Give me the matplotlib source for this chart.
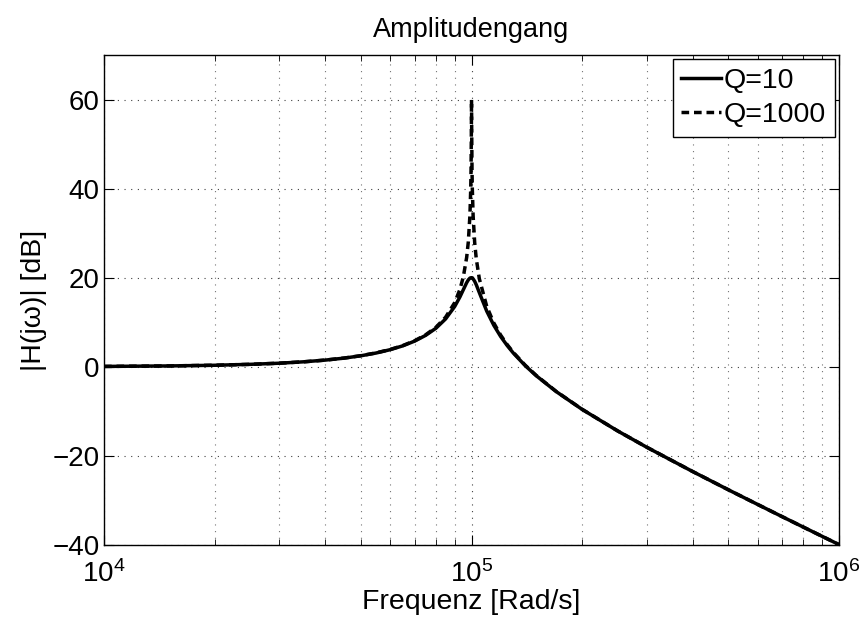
import matplotlib
matplotlib.use("Agg")
import matplotlib.pyplot as plt
from matplotlib.ticker import LogLocator, NullFormatter

plt.rcParams['font.family'] = ['Liberation Sans', 'DejaVu Sans']
plt.rcParams['mathtext.fontset'] = 'custom'
plt.rcParams['mathtext.rm'] = 'Liberation Sans'

# frequency in rad/s
freq = [1.0e4, 1.5e4, 2.0e4, 2.5e4, 3.0e4, 3.5e4, 4.0e4, 4.5e4, 5.0e4, 5.5e4,
        6.0e4, 6.5e4, 7.0e4, 7.5e4, 8.0e4, 8.5e4, 9.0e4, 9.3e4, 9.5e4, 9.7e4,
        9.8e4, 9.9e4, 9.95e4, 9.97e4, 9.99e4, 1.0e5, 1.001e5, 1.003e5, 1.005e5,
        1.01e5, 1.02e5, 1.03e5, 1.05e5, 1.1e5, 1.15e5, 1.2e5, 1.25e5, 1.3e5,
        1.4e5, 1.5e5, 1.7e5, 2.0e5, 2.5e5, 3.0e5, 4.0e5, 5.0e5, 6.0e5, 7.0e5,
        8.0e5, 1.0e6]

# |H(jw)| in dB, Q = 10
mag_q10 = [0.09, 0.20, 0.35, 0.56, 0.81, 1.13, 1.51, 1.95, 2.48, 3.10,
           3.84, 4.71, 5.77, 7.06, 8.66, 10.75, 13.55, 15.70, 17.32, 18.89,
           19.52, 19.92, 19.98, 19.99, 20.0, 20.0, 20.0, 19.99, 19.98,
           19.74, 19.19, 18.44, 16.67, 12.50, 9.31, 6.82, 4.79, 3.07,
           0.26, -2.00, -5.56, -9.56, -14.41, -18.07, -23.52, -27.61, -30.88, -33.63,
           -35.99, -39.91]

# |H(jw)| in dB, Q = 1000
mag_q1000 = [0.09, 0.20, 0.36, 0.56, 0.82, 1.13, 1.51, 1.97, 2.50, 3.13,
             3.88, 4.77, 5.85, 7.18, 8.87, 11.13, 14.42, 17.39, 20.22, 24.57,
             28.05, 34.0, 39.98, 44.33, 53.0, 60.0, 53.0, 44.30, 39.98,
             33.94, 27.87, 24.31, 19.79, 13.56, 9.83, 7.13, 5.00, 3.22,
             0.36, -1.94, -5.53, -9.54, -14.40, -18.06, -23.52, -27.60, -30.88, -33.63,
             -35.99, -39.91]

fig = plt.figure(figsize=(8.64, 6.23), dpi=100)
ax = fig.add_axes([0.1204, 0.1252, 0.8507, 0.7865])

ax.semilogx(freq, mag_q10, 'k-', linewidth=2.5, label='Q=10')
ax.semilogx(freq, mag_q1000, 'k--', linewidth=2.5, label='Q=1000', dashes=(2.2, 1.4))

ax.set_xlim(1e4, 1e6)
ax.set_ylim(-40, 70)
ax.set_yticks([-40, -20, 0, 20, 40, 60])
ax.xaxis.set_major_locator(LogLocator(base=10, numticks=10))
ax.xaxis.set_minor_locator(LogLocator(base=10, subs=range(2, 10), numticks=20))
ax.xaxis.set_minor_formatter(NullFormatter())

ax.grid(True, which='major', linestyle=(0, (1, 5)), color='0.25', linewidth=0.8)
ax.grid(True, which='minor', axis='x', linestyle=(0, (1, 5)), color='0.45', linewidth=0.8)

ax.tick_params(which='both', direction='in', top=True, right=True, labelsize=20)
ax.tick_params(which='major', length=7)
ax.tick_params(which='minor', length=4)
ax.tick_params(axis='x', which='major', pad=11)
ax.tick_params(axis='y', which='major', pad=3)
for s in ax.spines.values():
    s.set_linewidth(1.0)

ax.set_title('Amplitudengang', fontsize=19.5, pad=13)
ax.set_xlabel('Frequenz [Rad/s]', fontsize=20.5, labelpad=1)
ax.set_ylabel('|H(jω)| [dB]', fontsize=20.5, labelpad=4)

leg = ax.legend(loc='upper right', fontsize=20.5, fancybox=False, framealpha=1,
                edgecolor='k', borderaxespad=0.15, handlelength=1.4,
                handletextpad=0.1, borderpad=0.3, labelspacing=0.3)
leg.get_frame().set_linewidth(1.0)

fig.savefig('out.png', dpi=100)
